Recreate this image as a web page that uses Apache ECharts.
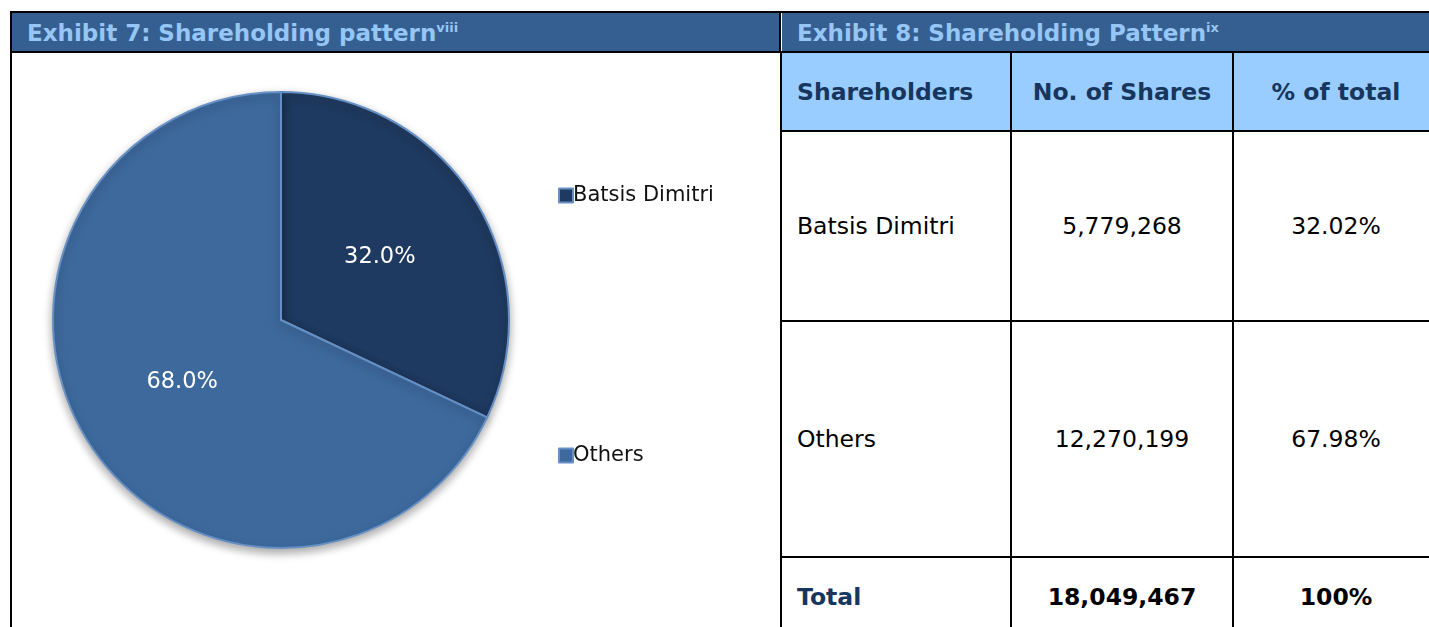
<!DOCTYPE html>
<html>
<head>
<meta charset="utf-8">
<script src="https://cdn.jsdelivr.net/npm/echarts@6/dist/echarts.min.js"></script>
<style>
  body { margin: 0; background: #fff; font-family: 'DejaVu Sans', Verdana, sans-serif; }
  .page { position: relative; width: 1429px; height: 627px; overflow: hidden; }
  .topline { position: absolute; left: 10px; top: 11px; width: 1419px; height: 2px; background: #000; }
  .hdr { position: absolute; top: 13px; height: 38px; background: #365F91; color: #95C6F5;
         font-weight: bold; font-size: 23px; line-height: 40px; box-sizing: border-box; white-space: nowrap; }
  .hdr sup { font-size: 13px; vertical-align: 9px; line-height: 0; }
  .hdrline { position: absolute; left: 10px; top: 51px; width: 1419px; height: 2px; background: #000; }
  .vline { position: absolute; width: 2px; background: #000; }
  #pie { position: absolute; left: 12px; top: 53px; width: 768px; height: 574px; }
  table { position: absolute; left: 780px; top: 51px; border-collapse: collapse; font-size: 23.5px; table-layout: fixed; }
  td { border: 2px solid #000; padding: 0; box-sizing: border-box; white-space: nowrap; }
  tr.head td { background: #99CCFF; color: #17365D; font-weight: bold; }
  td.c { text-align: center; }
  td.l { padding-left: 15px; }
  tr.tot td { font-weight: bold; }
  tr.tot td.l { color: #17365D; }
</style>
</head>
<body>
<div class="page">
  <div class="topline"></div>
  <div class="hdr" style="left:12px;width:767px;padding-left:15px;">Exhibit 7: Shareholding pattern<sup>viii</sup></div>
  <div class="hdr" style="left:782px;width:647px;padding-left:15px;">Exhibit 8: Shareholding Pattern<sup>ix</sup></div>
  <div class="vline" style="left:779px;top:11px;height:42px;"></div>
  <div class="hdrline"></div>
  <div class="vline" style="left:10px;top:11px;height:616px;"></div>
  <div id="pie"></div>
  <table id="tbl"></table>
</div>
<script>
// data
var holders = ['Batsis Dimitri', 'Others'];
var shares = [5779268, 12270199];
var pctText = ['32.02%', '67.98%'];
var totalShares = '18,049,467';
var totalPct = '100%';
var colHeads = ['Shareholders', 'No. of Shares', '% of total'];

var sliceColors = ['#1F3A60', '#3D699D'];

// table
var colW = [230, 222, 206];
var rowH = [79, 190, 236, 80];
var tbl = document.getElementById('tbl');
var html = '<tr class="head" style="height:' + rowH[0] + 'px">';
colHeads.forEach(function (h, i) {
  html += '<td class="' + (i === 0 ? 'l' : 'c') + '" style="width:' + colW[i] + 'px">' + h + '</td>';
});
html += '</tr>';
holders.forEach(function (name, i) {
  html += '<tr style="height:' + rowH[i + 1] + 'px"><td class="l">' + name + '</td>' +
    '<td class="c">' + shares[i].toLocaleString('en-US') + '</td>' +
    '<td class="c">' + pctText[i] + '</td></tr>';
});
html += '<tr class="tot" style="height:' + rowH[3] + 'px"><td class="l">Total</td><td class="c">' +
  totalShares + '</td><td class="c">' + totalPct + '</td></tr>';
tbl.innerHTML = html;
tbl.style.width = (colW[0] + colW[1] + colW[2]) + 'px';

// pie
var chart = echarts.init(document.getElementById('pie'));
chart.setOption({
  animation: false,
  legend: {
    orient: 'vertical',
    left: 541,
    top: 127,
    itemGap: 239,
    itemWidth: 14,
    itemHeight: 14,
    icon: 'rect',
    textStyle: { fontFamily: 'DejaVu Sans', fontSize: 21, color: '#111', lineHeight: 20, padding: [0, 0, 0, -5] },
    data: holders
  },
  series: [{
    type: 'pie',
    center: [269, 267],
    radius: 228,
    startAngle: 90,
    clockwise: true,
    label: {
      position: 'inside',
      color: '#fff',
      fontFamily: 'DejaVu Sans',
      fontSize: 22.5,
      formatter: function (p) { return p.percent.toFixed(1) + '%'; }
    },
    labelLine: { show: false },
    itemStyle: {
      borderColor: '#6690C4',
      borderWidth: 2,
      shadowBlur: 10,
      shadowOffsetY: 4,
      shadowColor: 'rgba(0,0,0,0.35)'
    },
    emphasis: { disabled: true },
    data: holders.map(function (n, i) {
      return { name: n, value: shares[i], itemStyle: { color: sliceColors[i] } };
    })
  }]
});
</script>
</body>
</html>
